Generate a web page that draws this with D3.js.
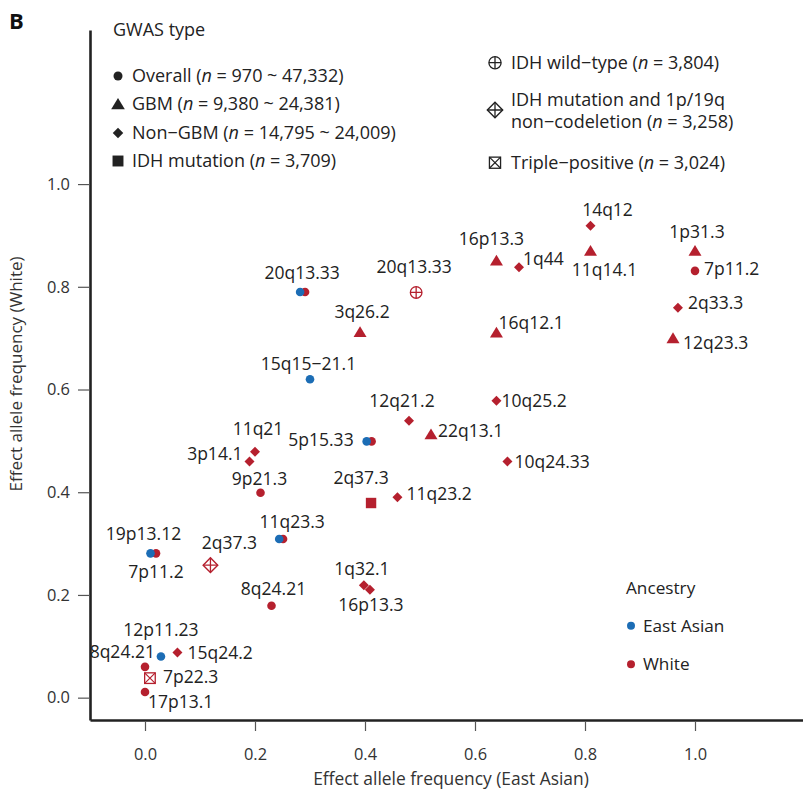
<!DOCTYPE html>
<html>
<head>
<meta charset="utf-8">
<script src="https://cdn.jsdelivr.net/npm/d3@7"></script>
<style>
  html, body { margin: 0; padding: 0; background: #fff; }
  svg { display: block; font-family: "Open Sans", "Noto Sans", sans-serif; }
</style>
</head>
<body>
<svg id="chart" width="803" height="793"></svg>
<script>
// ---------------- DATA ----------------
const loci = ["20q13.33","20q13.33","20q13.33","3q26.2","15q15\u221221.1","16p13.3","1q44","14q12","11q14.1","1p31.3",
  "7p11.2","2q33.3","12q23.3","16q12.1","10q25.2","12q21.2","22q13.1","10q24.33","11q23.2","2q37.3",
  "5p15.33","5p15.33","11q21","3p14.1","9p21.3","11q23.3","11q23.3","19p13.12","7p11.2","2q37.3",
  "8q24.21","1q32.1","16p13.3","12p11.23","15q24.2","8q24.21","7p22.3","17p13.1"];
const eastAsianFreq = [0.282,0.291,0.493,0.391,0.300,0.639,0.680,0.810,0.810,1.000,
  1.000,0.969,0.960,0.639,0.639,0.480,0.520,0.659,0.459,0.411,
  0.403,0.412,0.200,0.190,0.210,0.244,0.251,0.010,0.020,0.119,
  0.230,0.398,0.409,0.029,0.059,0.000,0.009,0.000];
const whiteFreq = [0.790,0.790,0.789,0.712,0.620,0.851,0.838,0.919,0.870,0.870,
  0.831,0.759,0.700,0.711,0.578,0.539,0.513,0.460,0.390,0.379,
  0.499,0.499,0.479,0.460,0.399,0.309,0.309,0.281,0.281,0.258,
  0.179,0.219,0.210,0.080,0.088,0.060,0.038,0.011];
const gwasType = ["overall","overall","idhwt","gbm","overall","gbm","nongbm","nongbm","gbm","gbm",
  "overall","nongbm","gbm","gbm","nongbm","nongbm","gbm","nongbm","nongbm","idhmut",
  "overall","overall","nongbm","nongbm","overall","overall","overall","overall","overall","idhcodel",
  "overall","nongbm","nongbm","overall","nongbm","overall","triple","overall"];
const ancestry = ["East Asian","White","White","White","East Asian","White","White","White","White","White",
  "White","White","White","White","White","White","White","White","White","White",
  "East Asian","White","White","White","White","East Asian","White","East Asian","White","White",
  "White","White","White","East Asian","White","White","White","White"];

const xTicks = [0, 0.2, 0.4, 0.6, 0.8, 1.0];
const yTicks = [0, 0.2, 0.4, 0.6, 0.8, 1.0];

const gwasLegend = [
  {type:"overall", name:"Overall (", n:" = 970 ~ 47,332)"},
  {type:"gbm", name:"GBM (", n:" = 9,380 ~ 24,381)"},
  {type:"nongbm", name:"Non\u2212GBM (", n:" = 14,795 ~ 24,009)"},
  {type:"idhmut", name:"IDH mutation (", n:" = 3,709)"}
];
const subtypeLegend = [
  {type:"idhwt", lines:[["IDH wild\u2212type (", " = 3,804)"]]},
  {type:"idhcodel", lines:[["IDH mutation and 1p/19q", null],["non\u2212codeletion (", " = 3,258)"]]},
  {type:"triple", lines:[["Triple\u2212positive (", " = 3,024)"]]}
];
const ancestryLegend = ["East Asian", "White"];

// ---------------- LAYOUT (label placement: anchor, dx, dy) ----------------
const labelPlace = [
  ["middle",2,-19], null, ["middle",-2,-26], ["middle",2,-20], ["middle",-1.5,-16], ["middle",-5,-22],
  ["start",4,-9], ["middle",17,-16], ["middle",14,19], ["middle",2,-19],
  ["start",9,-2], ["start",10,-5], ["start",10,5], ["start",2,-10], ["start",5,0],
  ["middle",-7,-20], ["start",7,-3], ["start",7,0], ["start",9,-4], ["middle",-10,-25],
  ["end",-13,-2], null, ["middle",3,-23], ["end",-7,-8], ["middle",-1,-14],
  ["middle",13,-17], null, ["middle",-7,-20], ["middle",0,18], ["middle",19,-22],
  ["middle",2,-17], ["middle",-2,-16], ["middle",1,15], ["middle",0,-27], ["start",10,0],
  ["end",10,-15], ["start",13,-1], ["start",3,10]
];

const RED = "#b5202e", BLUE = "#1c6db5", INK = "#222";
const colorScale = d3.scaleOrdinal().domain(["East Asian","White"]).range([BLUE, RED]);

const svg = d3.select("#chart");
const x = d3.scaleLinear().domain([-0.1, 1.2]).range([90, 805]);
const y = d3.scaleLinear().domain([-0.0435, 1.3]).range([720, 30]);

// symbol drawing
function drawSymbol(g, type, color, scale) {
  const s = scale || 1;
  if (type === "overall") {
    g.append("circle").attr("r", 4.3*s).attr("fill", color);
  } else if (type === "gbm") {
    g.append("path").attr("d", `M0,${-5.8*s}L${6.5*s},${5*s}L${-6.5*s},${5*s}Z`).attr("fill", color);
  } else if (type === "nongbm") {
    const h = 5*s;
    g.append("path").attr("d", `M0,${-h}L${h},0L0,${h}L${-h},0Z`).attr("fill", color);
  } else if (type === "idhmut") {
    const h = 5.2*s;
    g.append("rect").attr("x",-h).attr("y",-h).attr("width",2*h).attr("height",2*h).attr("fill", color);
  } else if (type === "idhwt") {
    const r = 5.8*s;
    g.append("circle").attr("r", r).attr("fill","none").attr("stroke",color).attr("stroke-width",1.3);
    g.append("path").attr("d",`M${-r},0H${r}M0,${-r}V${r}`).attr("stroke",color).attr("stroke-width",1.3);
  } else if (type === "idhcodel") {
    const h = 7.3*s;
    g.append("path").attr("d",`M0,${-h}L${h},0L0,${h}L${-h},0Z`).attr("fill","none").attr("stroke",color).attr("stroke-width",1.4);
    g.append("path").attr("d",`M${-h},0H${h}M0,${-h}V${h}`).attr("stroke",color).attr("stroke-width",1.3);
  } else if (type === "triple") {
    const h = 5.3*s;
    g.append("rect").attr("x",-h).attr("y",-h).attr("width",2*h).attr("height",2*h).attr("fill","none").attr("stroke",color).attr("stroke-width",1.3);
    g.append("path").attr("d",`M${-h},${-h}L${h},${h}M${h},${-h}L${-h},${h}`).attr("stroke",color).attr("stroke-width",1.2);
  }
}

// ---------------- AXES ----------------
const xAxis = svg.append("g").attr("transform", `translate(0,${y.range()[0]})`)
  .call(d3.axisBottom(x).tickValues(xTicks).tickFormat(d3.format(".1f")).tickSize(11).tickSizeOuter(0).tickPadding(17));
const yAxis = svg.append("g").attr("transform", `translate(${x.range()[0]},0)`)
  .call(d3.axisLeft(y).tickValues(yTicks).tickFormat(d3.format(".1f")).tickSize(12).tickSizeOuter(0).tickPadding(8));
[xAxis, yAxis].forEach(a => {
  a.select(".domain").attr("stroke", INK).attr("stroke-width", 2.6);
  a.selectAll(".tick line").attr("stroke", "#555").attr("stroke-width", 1.2);
  a.selectAll(".tick text").attr("fill", "#333").style("font-size", "16.4px").style("font-family", "'Open Sans', sans-serif");
});
xAxis.selectAll(".tick line").attr("y1", 2);

svg.append("text").attr("x", 451).attr("y", 785).attr("text-anchor","middle")
  .attr("fill","#333").style("font-size","17.4px").text("Effect allele frequency (East Asian)");
svg.append("text").attr("transform","translate(22,374) rotate(-90)").attr("text-anchor","middle")
  .attr("fill","#333").style("font-size","17px").text("Effect allele frequency (White)");

svg.append("text").attr("x", 9).attr("y", 29).attr("fill", "#111")
  .style("font-size","22px").style("font-weight","bold").text("B");

// ---------------- POINTS ----------------
const pts = loci.map((l,i) => ({i, locus:l, ea:eastAsianFreq[i], w:whiteFreq[i], type:gwasType[i], anc:ancestry[i]}));
const drawOrder = pts.filter(p => p.anc === "White").concat(pts.filter(p => p.anc === "East Asian"));
const ptG = svg.append("g");
drawOrder.forEach(p => {
  const g = ptG.append("g").attr("transform", `translate(${x(p.ea)},${y(p.w)})`);
  drawSymbol(g, p.type, colorScale(p.anc));
});
const lblG = svg.append("g").attr("fill", INK).style("font-size","17.5px");
pts.forEach(p => {
  const lp = labelPlace[p.i];
  if (!lp) return;
  lblG.append("text").attr("x", x(p.ea) + lp[1]).attr("y", y(p.w) + lp[2])
    .attr("dy","0.36em").attr("text-anchor", lp[0]).text(p.locus);
});

// ---------------- LEGENDS ----------------
const fs = "18px";
const lg1 = svg.append("g");
lg1.append("text").attr("x",113).attr("y",30).attr("dy","0.36em").attr("fill",INK).style("font-size",fs).text("GWAS type");
const rowY1 = [76, 104, 133, 161];
gwasLegend.forEach((d,k) => {
  const g = lg1.append("g").attr("transform",`translate(118,${rowY1[k]})`);
  drawSymbol(g, d.type, INK, 1.05);
  const t = lg1.append("text").attr("x",132).attr("y",rowY1[k]).attr("dy","0.36em").attr("fill",INK).style("font-size",fs);
  t.append("tspan").text(d.name);
  t.append("tspan").style("font-style","italic").text("n");
  t.append("tspan").text(d.n);
});

const lg2 = svg.append("g");
const symY2 = [62.7, 110, 162.7];
const lineY2 = [[62.7],[99.3,121.7],[162.7]];
subtypeLegend.forEach((d,k) => {
  const g = lg2.append("g").attr("transform",`translate(495,${symY2[k]})`);
  drawSymbol(g, d.type, INK, 1.05);
  d.lines.forEach((ln,j) => {
    const t = lg2.append("text").attr("x",511).attr("y",lineY2[k][j]).attr("dy","0.36em").attr("fill",INK).style("font-size",fs);
    t.append("tspan").text(ln[0]);
    if (ln[1] !== null) {
      t.append("tspan").style("font-style","italic").text("n");
      t.append("tspan").text(ln[1]);
    }
  });
});

const lg3 = svg.append("g");
lg3.append("text").attr("x",626).attr("y",588).attr("dy","0.36em").attr("fill",INK).style("font-size","17.2px").text("Ancestry");
const rowY3 = [625.7, 664.3];
ancestryLegend.forEach((a,k) => {
  lg3.append("circle").attr("cx",631).attr("cy",rowY3[k]).attr("r",4).attr("fill",colorScale(a));
  lg3.append("text").attr("x",643).attr("y",rowY3[k]).attr("dy","0.36em").attr("fill",INK).style("font-size","17.2px").text(a);
});
</script>
</body>
</html>
